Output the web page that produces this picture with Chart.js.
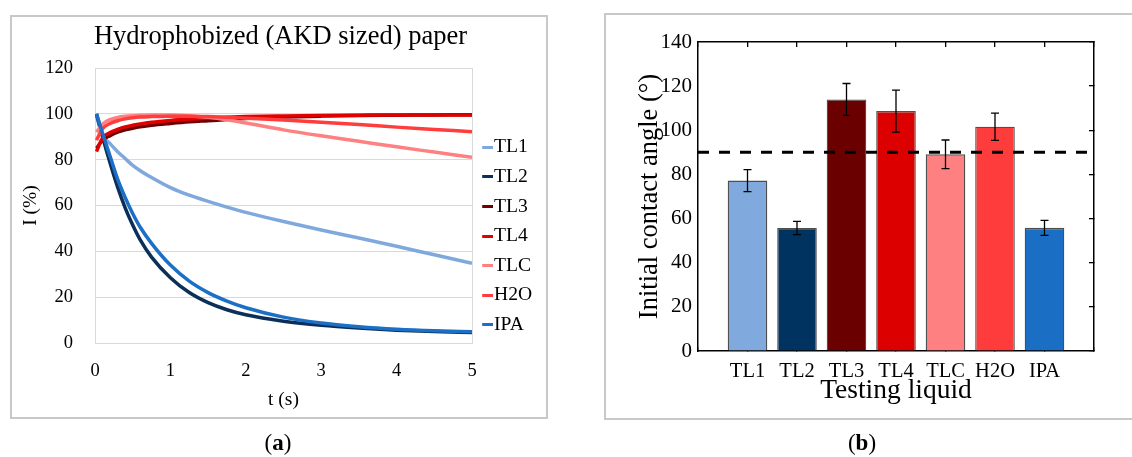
<!DOCTYPE html>
<html><head><meta charset="utf-8">
<script src="https://cdn.jsdelivr.net/npm/chart.js@4.4.1/dist/chart.umd.min.js"></script>
<style>
html,body{margin:0;padding:0;background:#fff;}
body{width:1132px;height:457px;position:relative;overflow:hidden;font-family:"Liberation Serif",serif;}
.frame{position:absolute;border:2px solid #c8c8c8;box-sizing:border-box;}
#fa{left:10px;top:15px;width:538px;height:404px;}
#fb{left:604px;top:13px;width:540px;height:407px;}
canvas{position:absolute;top:0;}
.cap{position:absolute;top:430px;font-size:23px;line-height:26px;transform:translateX(-50%);color:#000;white-space:nowrap;}
</style></head><body>
<div class="frame" id="fa"></div><div class="frame" id="fb"></div>
<canvas id="ca" width="580" height="457" style="left:0"></canvas>
<canvas id="cb" width="552" height="457" style="left:580px"></canvas>
<div class="cap" style="left:278px">(<b>a</b>)</div>
<div class="cap" style="left:862px">(<b>b</b>)</div>
<script>
// ---------- Panel (a) data ----------
const panelATitle = 'Hydrophobized (AKD sized) paper';
const timeS = [0.02, 0.1, 0.2, 0.3, 0.4, 0.5, 0.6, 0.75, 1.0, 1.25, 1.5, 1.75, 2.0, 2.5, 3.0, 3.5, 4.0, 4.5, 5.0];
const seriesNames = ['TL1', 'TL2', 'TL3', 'TL4', 'TLC', 'H2O', 'IPA'];
const I_TL1 = [99, 90.5, 87, 83.5, 80.5, 77.5, 75.2, 72.2, 67.8, 64.5, 61.8, 59.3, 57, 53, 49.3, 45.8, 42.2, 38.5, 34.8];
const I_TL2 = [100, 90, 78.5, 68, 59, 51.5, 45, 37.5, 28.5, 22, 17.6, 14.5, 12.3, 9.5, 7.7, 6.5, 5.6, 5.0, 4.6];
const I_TL3 = [85, 88.5, 90.5, 92, 93, 93.7, 94.3, 95, 95.8, 96.5, 97, 97.5, 98, 98.6, 99, 99.3, 99.4, 99.5, 99.6];
const I_TL4 = [83.5, 89.5, 91.8, 93.2, 94.3, 95, 95.6, 96.3, 97.1, 97.7, 98.2, 98.5, 98.8, 99.1, 99.3, 99.4, 99.5, 99.5, 99.5];
const I_TLC = [92, 95.5, 97.5, 98.4, 98.9, 99.2, 99.4, 99.5, 99.5, 99.2, 98.5, 97.4, 96, 93, 90.4, 88, 85.6, 83.3, 81];
const I_H2O = [88.5, 93.5, 95.8, 97, 97.8, 98.3, 98.6, 98.8, 99, 99, 98.8, 98.5, 98.1, 97.3, 96.3, 95.3, 94.2, 93.2, 92.2];
const I_IPA = [100, 91.5, 81.5, 71.5, 63.5, 56.5, 50.5, 43.5, 34, 27, 22, 18.3, 15.4, 11.3, 8.7, 7.1, 6.0, 5.3, 4.9];
const lineColors = ['#7fa9dd', '#0b2f58', '#700000', '#e00000', '#ff8080', '#ff3d3d', '#1b6fc6'];

// ---------- Panel (b) data ----------
const liquids = ['TL1', 'TL2', 'TL3', 'TL4', 'TLC', 'H2O', 'IPA'];
const contactAngle = [77.2, 55.7, 114.0, 108.7, 89.1, 101.6, 55.8];
const angleError = [5.0, 3.0, 7.2, 9.5, 6.5, 6.2, 3.4];
const barColors = ['#80aadd', '#00335f', '#6b0000', '#dd0000', '#ff8080', '#ff3c3c', '#1a6fc4'];
const thresholdAngle = 90;

const SERIF = '"Liberation Serif", "Times New Roman", serif';
Chart.defaults.font.family = SERIF;
Chart.defaults.color = '#000';
Chart.defaults.animation = false;

function legendMark(color) {
  const c = document.createElement('canvas');
  c.width = 20; c.height = 3;
  const g = c.getContext('2d');
  g.fillStyle = color;
  g.fillRect(9, 0, 11, 3);
  return c;
}

const seriesValues = [I_TL1, I_TL2, I_TL3, I_TL4, I_TLC, I_H2O, I_IPA];
const lineDatasets = seriesNames.map((name, i) => ({
  label: name,
  data: timeS.map((t, k) => ({x: t, y: seriesValues[i][k]})),
  borderColor: lineColors[i],
  backgroundColor: lineColors[i],
  borderWidth: 3.5,
  pointRadius: 0,
  cubicInterpolationMode: 'monotone',
  pointStyle: legendMark(lineColors[i]),
  order: seriesNames.length - i
}));

const GRID = '#d9d9d9';
new Chart(document.getElementById('ca'), {
  type: 'line',
  data: {datasets: lineDatasets},
  options: {
    responsive: false,
    animation: false,
    layout: {padding: {left: 19, right: 38, top: 10, bottom: 44}},
    plugins: {
      tooltip: {enabled: false},
      title: {display: true, text: panelATitle, font: {size: 26.5, weight: 'normal'}, color: '#000',
              padding: {top: 11.5, bottom: 14.7}},
      legend: {
        position: 'right', align: 'center', maxWidth: 70,
        title: {display: true, text: ' ', font: {size: 10}, padding: {top: 37, bottom: 0}},
        labels: {usePointStyle: true, pointStyleWidth: 2.3, padding: 10, color: '#000',
                 font: {size: 19.6}, sort: (a, b) => a.datasetIndex - b.datasetIndex}
      }
    },
    scales: {
      x: {
        type: 'linear', min: 0, max: 5,
        ticks: {stepSize: 1, font: {size: 18.5}, padding: 17.5, color: '#000'},
        grid: {drawTicks: false, color: (c) => (c.tick && c.tick.value === 5) ? GRID : 'rgba(0,0,0,0)'},
        border: {color: GRID, width: 1},
        title: {display: true, text: 't (s)', font: {size: 19.5}, padding: {top: 0, bottom: 1.6}, color: '#000'},
        afterFit: (s) => { s.height = 70; }
      },
      y: {
        min: 0, max: 120,
        ticks: {stepSize: 20, font: {size: 18.5}, padding: 22, color: '#000'},
        grid: {drawTicks: false, color: GRID},
        border: {color: GRID, width: 1},
        title: {display: true, text: 'I (%)', font: {size: 19.5}, padding: {top: 0, bottom: 0}, color: '#000'},
        afterFit: (s) => { s.width = 76; }
      }
    }
  }
});

// ---------- Panel (b) ----------
const paddedLabels = [''].concat(liquids, ['']);
const paddedAngles = [null].concat(contactAngle, [null]);
const paddedErrors = [null].concat(angleError, [null]);
const paddedColors = ['rgba(0,0,0,0)'].concat(barColors, ['rgba(0,0,0,0)']);

const errorBars = {
  id: 'errorBars',
  afterDatasetsDraw(chart) {
    const meta = chart.getDatasetMeta(1);
    const ys = chart.scales.y;
    const ctx = chart.ctx;
    ctx.save();
    ctx.strokeStyle = '#000';
    ctx.lineWidth = 1.3;
    meta.data.forEach((el, i) => {
      const v = paddedAngles[i], e = paddedErrors[i];
      if (v == null) return;
      const x = el.x;
      const yt = ys.getPixelForValue(v + e), yb = ys.getPixelForValue(v - e);
      ctx.beginPath();
      ctx.moveTo(x, yt); ctx.lineTo(x, yb);
      ctx.moveTo(x - 4, yt); ctx.lineTo(x + 4, yt);
      ctx.moveTo(x - 4, yb); ctx.lineTo(x + 4, yb);
      ctx.stroke();
    });
    ctx.restore();
  }
};

new Chart(document.getElementById('cb'), {
  type: 'bar',
  data: {
    labels: paddedLabels,
    datasets: [
      {type: 'line', label: 'threshold', data: paddedLabels.map(() => thresholdAngle),
       borderColor: '#000', borderWidth: 3, borderDash: [11, 10], pointRadius: 0, order: 0},
      {type: 'bar', label: 'Initial contact angle', data: paddedAngles, backgroundColor: paddedColors,
       borderColor: 'rgba(20,20,20,0.75)', borderWidth: 1.3,
       categoryPercentage: 1, barPercentage: 0.8, order: 1}
    ]
  },
  plugins: [errorBars],
  options: {
    responsive: false,
    animation: false,
    layout: {padding: {left: 48, right: 38, top: 42, bottom: 46}},
    plugins: {legend: {display: false}, tooltip: {enabled: false}},
    scales: {
      x: {
        type: 'category', offset: false,
        ticks: {font: {size: 20.5}, padding: 12.5, color: '#000', maxRotation: 0, autoSkip: false},
        grid: {drawOnChartArea: false, drawTicks: true, tickLength: -4, color: '#000', lineWidth: 1.3, offset: false},
        border: {display: true, color: '#000', width: 1.5},
        title: {display: true, text: 'Testing liquid', font: {size: 27.5}, padding: {top: 0, bottom: 3.5}, color: '#000'},
        afterFit: (s) => { s.height = 60; }
      },
      x2: {
        type: 'category', position: 'top', offset: false,
        ticks: {display: false},
        grid: {drawOnChartArea: false, drawTicks: true, tickLength: -5, color: '#000', lineWidth: 1.3, offset: false},
        border: {display: true, color: '#000', width: 1.5},
        afterFit: (s) => { s.height = 0; }
      },
      y: {
        min: 0, max: 140,
        ticks: {stepSize: 20, font: {size: 21}, padding: 6, color: '#000'},
        grid: {drawOnChartArea: false, drawTicks: false},
        border: {display: true, color: '#000', width: 1.5},
        title: {display: true, text: 'Initial contact angle (°)', font: {size: 26.5}, padding: {top: 6.2, bottom: 0}, color: '#000'},
        afterFit: (s) => { s.width = 70; }
      },
      y2: {
        position: 'right', min: 0, max: 140,
        ticks: {display: false, stepSize: 20},
        grid: {drawOnChartArea: false, drawTicks: true, tickLength: -5, color: '#000', lineWidth: 1.3},
        border: {display: true, color: '#000', width: 1.5},
        afterFit: (s) => { s.width = 0; }
      }
    }
  }
});
</script>
</body></html>
